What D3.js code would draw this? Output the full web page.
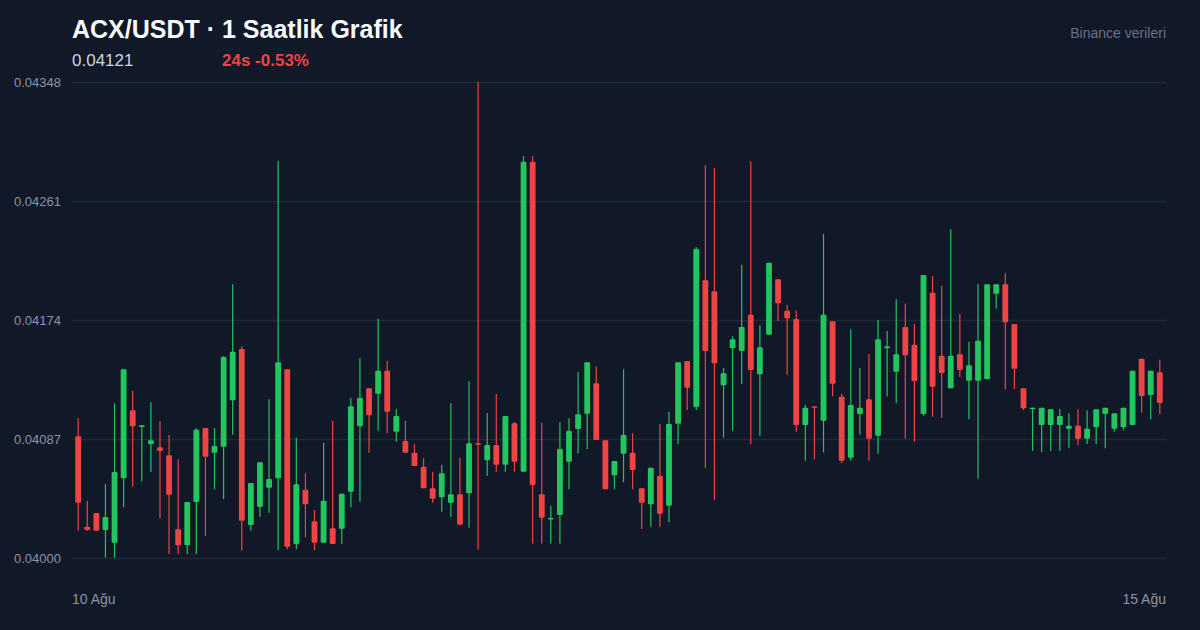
<!DOCTYPE html>
<html>
<head>
<meta charset="utf-8">
<script src="https://cdn.jsdelivr.net/npm/d3@7"></script>
<style>
  html, body { margin: 0; padding: 0; background: #111827; }
  svg { display: block; }
</style>
</head>
<body>
<svg id="chart" width="1200" height="630"></svg>
<script>
// hourly candles, 10 Ağu -> 15 Ağu (120 bars)
const opens = [
  0.040890, 0.040229, 0.040329, 0.040205, 0.040112, 0.040583, 0.041080, 0.040958, 0.040833, 0.040809,
  0.040751, 0.040210, 0.040093, 0.040409, 0.040950, 0.040770, 0.040814, 0.041153, 0.041528, 0.040241,
  0.040373, 0.040514, 0.040583, 0.041380, 0.040102, 0.040499, 0.040268, 0.040112, 0.040217, 0.040214,
  0.040485, 0.040963, 0.041241, 0.041201, 0.041369, 0.040923, 0.040855, 0.040770, 0.040667, 0.040510,
  0.040444, 0.040404, 0.040466, 0.040473, 0.040839, 0.040714, 0.040826, 0.040682, 0.040985, 0.040631,
  0.042897, 0.040466, 0.040285, 0.040314, 0.040704, 0.040943, 0.041055, 0.041277, 0.040861, 0.040605,
  0.040763, 0.040770, 0.040510, 0.040393, 0.040600, 0.040382, 0.040982, 0.041440, 0.041104, 0.042030,
  0.041950, 0.041263, 0.041533, 0.041513, 0.041779, 0.041343, 0.041633, 0.042038, 0.041808, 0.041747,
  0.040972, 0.041109, 0.041004, 0.041731, 0.041179, 0.040733, 0.041053, 0.041160, 0.040894, 0.041533,
  0.041362, 0.041689, 0.041559, 0.041053, 0.041940, 0.041479, 0.041241, 0.041489, 0.041296, 0.041296,
  0.041309, 0.041932, 0.042001, 0.041711, 0.041241, 0.041087, 0.040972, 0.040972, 0.040972, 0.040945,
  0.040967, 0.040872, 0.040956, 0.041053, 0.040945, 0.040956, 0.040972, 0.041457, 0.041192, 0.041358
];
const highs = [
  0.041021, 0.040419, 0.040329, 0.040541, 0.041131, 0.041380, 0.041221, 0.040970, 0.041138, 0.040999,
  0.040899, 0.040722, 0.040409, 0.040950, 0.040950, 0.040950, 0.041477, 0.042001, 0.041548, 0.040548,
  0.040700, 0.041160, 0.042903, 0.041380, 0.040880, 0.040621, 0.040351, 0.040841, 0.041002, 0.040470,
  0.041170, 0.041460, 0.041241, 0.041750, 0.041440, 0.041089, 0.041002, 0.040831, 0.040729, 0.040631,
  0.040680, 0.041131, 0.040731, 0.041292, 0.043480, 0.041060, 0.041199, 0.041038, 0.040996, 0.042939,
  0.042939, 0.040989, 0.040380, 0.040992, 0.041021, 0.041360, 0.041431, 0.041402, 0.040861, 0.040709,
  0.041380, 0.040912, 0.040510, 0.040660, 0.040980, 0.041070, 0.041431, 0.041440, 0.042272, 0.042871,
  0.042851, 0.041389, 0.041621, 0.042142, 0.042900, 0.041701, 0.042159, 0.042038, 0.041850, 0.041811,
  0.041119, 0.041109, 0.042369, 0.041731, 0.041199, 0.041672, 0.041389, 0.041491, 0.041740, 0.041660,
  0.041891, 0.041859, 0.041711, 0.042069, 0.042062, 0.041991, 0.042403, 0.041784, 0.041579, 0.042001,
  0.042001, 0.042001, 0.042081, 0.041711, 0.041241, 0.041099, 0.041099, 0.041087, 0.041089, 0.041058,
  0.041087, 0.041080, 0.041087, 0.041099, 0.041058, 0.041099, 0.041369, 0.041457, 0.041369, 0.041450
];
const lows = [
  0.040200, 0.040200, 0.040200, 0.040002, 0.040002, 0.040371, 0.040521, 0.040561, 0.040629, 0.040290,
  0.040029, 0.040029, 0.040029, 0.040029, 0.040161, 0.040502, 0.040431, 0.040901, 0.040053, 0.040200,
  0.040302, 0.040331, 0.040058, 0.040064, 0.040064, 0.040151, 0.040058, 0.040112, 0.040102, 0.040102,
  0.040371, 0.040412, 0.040770, 0.040931, 0.040912, 0.040850, 0.040770, 0.040673, 0.040510, 0.040404,
  0.040338, 0.040302, 0.040243, 0.040222, 0.040061, 0.040602, 0.040631, 0.040631, 0.040631, 0.040631,
  0.040105, 0.040105, 0.040105, 0.040105, 0.040502, 0.040765, 0.040795, 0.040863, 0.040502, 0.040502,
  0.040553, 0.040502, 0.040212, 0.040229, 0.040229, 0.040261, 0.040831, 0.041082, 0.041082, 0.040660,
  0.040422, 0.040880, 0.040931, 0.041272, 0.040831, 0.040892, 0.041633, 0.041733, 0.041340, 0.040923,
  0.040711, 0.040722, 0.040773, 0.041182, 0.040692, 0.040711, 0.040901, 0.040711, 0.040763, 0.041182,
  0.041131, 0.040872, 0.040850, 0.041040, 0.041033, 0.041024, 0.041241, 0.041323, 0.041014, 0.040580,
  0.041304, 0.041823, 0.041233, 0.041233, 0.041082, 0.040782, 0.040773, 0.040782, 0.040782, 0.040802,
  0.040824, 0.040833, 0.040833, 0.040802, 0.040923, 0.040934, 0.040972, 0.041062, 0.041014, 0.041053
];
const closes = [
  0.040404, 0.040205, 0.040200, 0.040300, 0.040629, 0.041380, 0.040963, 0.040970, 0.040861, 0.040782,
  0.040463, 0.040093, 0.040409, 0.040938, 0.040741, 0.040819, 0.041470, 0.041508, 0.040273, 0.040548,
  0.040700, 0.040578, 0.041431, 0.040083, 0.040539, 0.040393, 0.040112, 0.040419, 0.040102, 0.040470,
  0.041109, 0.041170, 0.041043, 0.041369, 0.041070, 0.041038, 0.040770, 0.040673, 0.040510, 0.040434,
  0.040619, 0.040466, 0.040243, 0.040839, 0.040828, 0.040826, 0.040682, 0.041038, 0.040704, 0.042897,
  0.040534, 0.040295, 0.040292, 0.040797, 0.040929, 0.041051, 0.041431, 0.040863, 0.040502, 0.040709,
  0.040899, 0.040643, 0.040404, 0.040660, 0.040324, 0.040980, 0.041431, 0.041245, 0.042259, 0.041513,
  0.041423, 0.041350, 0.041599, 0.041689, 0.041374, 0.041540, 0.042159, 0.041862, 0.041752, 0.040972,
  0.041099, 0.041099, 0.041779, 0.041274, 0.040711, 0.041119, 0.041099, 0.040872, 0.041599, 0.041548,
  0.041489, 0.041482, 0.041294, 0.042069, 0.041252, 0.041353, 0.041479, 0.041374, 0.041409, 0.041589,
  0.042001, 0.042001, 0.041723, 0.041384, 0.041094, 0.041099, 0.041099, 0.041087, 0.041038, 0.040967,
  0.040872, 0.040945, 0.041087, 0.041099, 0.041058, 0.041099, 0.041369, 0.041184, 0.041369, 0.041133
];
const yTicks = [0.04000, 0.04087, 0.04174, 0.04261, 0.04348];
const dateLabels = ["10 Ağu", "15 Ağu"];

const title = "ACX/USDT · 1 Saatlik Grafik";
const lastPriceText = "0.04121";
const changeText = "24s -0.53%";
const sourceText = "Binance verileri";

const width = 1200, height = 630;
const margin = { top: 82, right: 34, bottom: 72, left: 72 };
const up = "#22c55e", down = "#ef4444";
const font = "'Liberation Sans', Arial, Helvetica, sans-serif";

const candles = opens.map((o, i) => ({ i, o, h: highs[i], l: lows[i], c: closes[i] }));

const svg = d3.select("#chart");
svg.append("rect").attr("width", width).attr("height", height).attr("fill", "#111827");

const x = d3.scaleBand()
    .domain(candles.map(d => d.i))
    .range([margin.left, width - margin.right])
    .padding(0.36);

const y = d3.scaleLinear()
    .domain([yTicks[0], yTicks[yTicks.length - 1]])
    .range([height - margin.bottom, margin.top]);

// grid + y labels
const yAxis = d3.axisLeft(y)
    .tickValues(yTicks)
    .tickFormat(d3.format(".5f"))
    .tickSize(-(width - margin.left - margin.right))
    .tickPadding(11);

svg.append("g")
    .attr("transform", `translate(${margin.left},0)`)
    .call(yAxis)
    .call(g => g.select(".domain").remove())
    .call(g => g.selectAll(".tick line").attr("stroke", "#1f2a37").attr("stroke-width", 1.5))
    .call(g => g.selectAll(".tick text")
        .attr("fill", "#8b95a5")
        .style("font-family", font)
        .style("font-size", "13px"));

// candles
const g = svg.append("g");
const cx = d => x(d.i) + x.bandwidth() / 2;
const col = d => d.c >= d.o ? up : down;

g.selectAll(".wick")
    .data(candles)
    .join("line")
    .attr("class", "wick")
    .attr("x1", cx).attr("x2", cx)
    .attr("y1", d => y(d.h))
    .attr("y2", d => y(d.l))
    .attr("stroke", col)
    .attr("stroke-width", 1.2);

g.selectAll(".body")
    .data(candles)
    .join("rect")
    .attr("class", "body")
    .attr("x", d => x(d.i))
    .attr("width", x.bandwidth())
    .attr("y", d => y(Math.max(d.o, d.c)))
    .attr("height", d => Math.max(1.5, Math.abs(y(d.o) - y(d.c))))
    .attr("rx", 1)
    .attr("fill", col);

// x labels (first and last day)
svg.append("text")
    .attr("x", margin.left).attr("y", 604)
    .attr("fill", "#8b95a5")
    .style("font-family", font).style("font-size", "14px")
    .text(dateLabels[0]);

svg.append("text")
    .attr("x", width - margin.right).attr("y", 604)
    .attr("text-anchor", "end")
    .attr("fill", "#8b95a5")
    .style("font-family", font).style("font-size", "14px")
    .text(dateLabels[1]);

// header
svg.append("text")
    .attr("x", 72).attr("y", 38)
    .attr("fill", "#f8fafc")
    .style("font-family", font).style("font-size", "25px").style("font-weight", "bold")
    .text(title);

svg.append("text")
    .attr("x", 72).attr("y", 66)
    .attr("fill", "#cbd5e1")
    .style("font-family", font).style("font-size", "17px")
    .text(lastPriceText);

svg.append("text")
    .attr("x", 222).attr("y", 66)
    .attr("fill", down)
    .style("font-family", font).style("font-size", "17px").style("font-weight", "bold")
    .text(changeText);

svg.append("text")
    .attr("x", width - margin.right).attr("y", 38)
    .attr("text-anchor", "end")
    .attr("fill", "#64748b")
    .style("font-family", font).style("font-size", "14px")
    .text(sourceText);
</script>
</body>
</html>
